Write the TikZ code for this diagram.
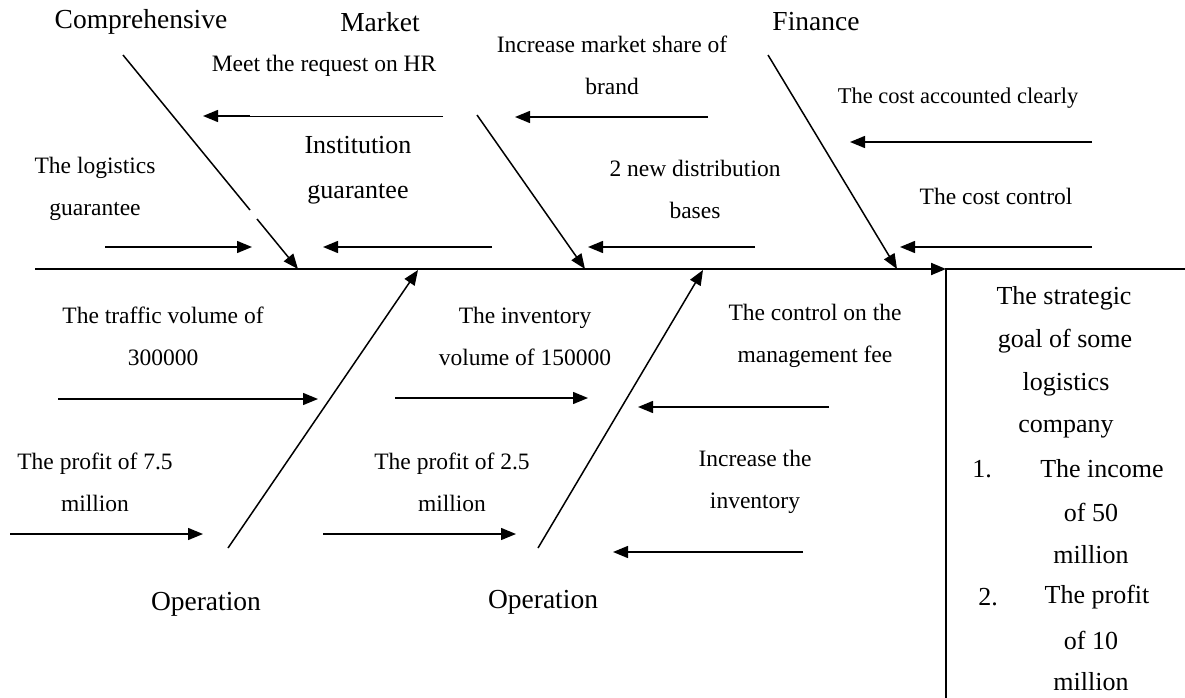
\documentclass[tikz,border=0pt]{standalone}
\usepackage{fontspec}
\setmainfont{Liberation Serif}
\usetikzlibrary{arrows.meta}
\begin{document}
\begin{tikzpicture}[x=1pt,y=-1pt,
  tip/.style={-{Triangle[length=15pt,width=12pt]}},
  arr/.style={line width=1.4pt,tip},
  bone/.style={line width=1.5pt},
  lbl/.style={font=\fontsize{23.5}{42}\selectfont,inner sep=0pt,align=center},
  big/.style={font=\fontsize{27.5}{33}\selectfont,inner sep=0pt},
  mid/.style={font=\fontsize{26}{45}\selectfont,inner sep=0pt,align=center},
  goal/.style={font=\fontsize{26}{42.6}\selectfont,inner sep=0pt}]
\useasboundingbox (0,0) rectangle (1185,698);

% spine and goal box
\coordinate (sp0) at (35,269);
\coordinate (boxc) at (946,269);
\coordinate (boxtr) at (1185,269);
\coordinate (boxbl) at (946,698);
\draw[line width=2pt,tip] (sp0) -- (boxc);
\draw[line width=2pt] (boxtr) -- (boxc) -- (boxbl);

% main bones
\coordinate (c0) at (123,55);
\coordinate (c1) at (250,210);
\coordinate (c2) at (257,219);
\coordinate (c3) at (298,269);
\draw[bone] (c0) -- (c1);
\draw[bone,tip] (c2) -- (c3);
\coordinate (m0) at (477,115);
\coordinate (m1) at (585,269);
\draw[bone,tip] (m0) -- (m1);
\coordinate (f0) at (768,55);
\coordinate (f1) at (897,269);
\draw[bone,tip] (f0) -- (f1);
\coordinate (o0) at (228,548);
\coordinate (o1) at (418,270);
\draw[bone,tip] (o0) -- (o1);
\coordinate (p0) at (538,548);
\coordinate (p1) at (703,270);
\draw[bone,tip] (p0) -- (p1);

% headings
\node[big] (hC) at (141,22) {Comprehensive};
\node[big] (hM) at (380,22) {Market};
\node[big] (hF) at (816,22) {Finance};
\node[big] (hO1) at (206,604) {Operation};
\node[big] (hO2) at (543,602) {Operation};

% top labels
\node[lbl] (tHR) at (324,66) {Meet the request on HR};
\node[lbl] (tBr) at (612,65) {Increase market share of\\brand};
\node[lbl,font=\fontsize{22.5}{42}\selectfont] (tCa) at (958,98) {The cost accounted clearly};
\node[lbl] (tLg) at (95,189) {The logistics\\guarantee};
\node[mid] (tIn) at (358,170) {Institution\\guarantee};
\node[lbl] (tDi) at (695,189) {2 new distribution\\bases};
\node[lbl] (tCc) at (996,196) {The cost control};

% bottom labels
\node[lbl] (tTr) at (163,336) {The traffic volume of\\300000};
\node[lbl] (tIv) at (525,336) {The inventory\\volume of 150000};
\node[lbl] (tMf) at (815,336) {The control on the\\management fee};
\node[lbl] (tP7) at (95,482) {The profit of 7.5\\million};
\node[lbl] (tP2) at (452,482) {The profit of 2.5\\million};
\node[lbl] (tIi) at (755,482) {Increase the\\inventory};

% small arrows
\coordinate (a1s) at (443,116); \coordinate (a1m) at (250,116); \coordinate (a1e) at (203,116);
\draw[line width=0.8pt] (a1s) -- (a1m);
\draw[arr] (a1m) -- (a1e);
\coordinate (a2s) at (708,117); \coordinate (a2e) at (515,117);
\coordinate (a3s) at (1092,142); \coordinate (a3e) at (850,142);
\coordinate (a4s) at (105,247); \coordinate (a4e) at (252,247);
\coordinate (a5s) at (492,247); \coordinate (a5e) at (323,247);
\coordinate (a6s) at (755,247); \coordinate (a6e) at (588,247);
\coordinate (a7s) at (1092,247); \coordinate (a7e) at (900,247);
\coordinate (a8s) at (58,399); \coordinate (a8e) at (318,399);
\coordinate (a9s) at (395,398); \coordinate (a9e) at (588,398);
\coordinate (a10s) at (829,407); \coordinate (a10e) at (638,407);
\coordinate (a11s) at (10,534); \coordinate (a11e) at (203,534);
\coordinate (a12s) at (323,534); \coordinate (a12e) at (516,534);
\coordinate (a13s) at (803,552); \coordinate (a13e) at (613,552);
\foreach \i in {2,...,13} {\draw[arr] (a\i s) -- (a\i e);}

% goal text
\node[goal] (g1) at (1064,298) {The strategic};
\node[goal] (g2) at (1065,341) {goal of some};
\node[goal] (g3) at (1066,384) {logistics};
\node[goal] (g4) at (1066,429) {company};
\node[goal] (g5a) at (982,469) {1.};
\node[goal] (g5b) at (1102,469) {The income};
\node[goal] (g6) at (1091,512) {of 50};
\node[goal] (g7) at (1091,555) {million};
\node[goal] (g8a) at (988,597) {2.};
\node[goal] (g8b) at (1097,597) {The profit};
\node[goal] (g9) at (1091,640) {of 10};
\node[goal] (g10) at (1091,682) {million};
\end{tikzpicture}
\end{document}
